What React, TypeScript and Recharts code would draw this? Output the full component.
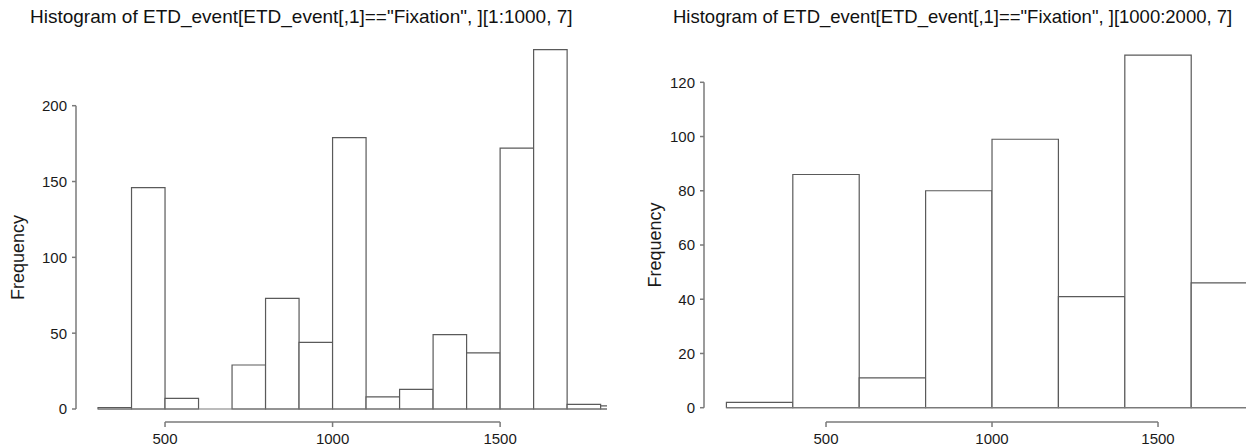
import { ComposedChart, ReferenceArea, ReferenceLine, XAxis, YAxis } from 'recharts'

// histogram breaks + counts
const leftBreaks = [300, 400, 500, 600, 700, 800, 900, 1000, 1100, 1200, 1300, 1400, 1500, 1600, 1700, 1800, 1900]
const leftCounts = [1, 146, 7, 0, 29, 73, 44, 179, 8, 13, 49, 37, 172, 237, 3, 2]
const rightBreaks = [200, 400, 600, 800, 1000, 1200, 1400, 1600, 1800]
const rightCounts = [2, 86, 11, 80, 99, 41, 130, 46]

const xTicks = [500, 1000, 1500]
const leftYTicks = [0, 50, 100, 150, 200]
const rightYTicks = [0, 20, 40, 60, 80, 100, 120]

const leftTitle = 'Histogram of ETD_event[ETD_event[,1]=="Fixation", ][1:1000, 7]'
const rightTitle = 'Histogram of ETD_event[ETD_event[,1]=="Fixation", ][1000:2000, 7]'

const FONT = '"Liberation Sans", Arial, Helvetica, sans-serif'
const AXIS_GREY = '#7a7a7a'
const BAR_STROKE = '#5a5a5a'

type HistogramProps = {
  breaks: number[]
  counts: number[]
  yTicks: number[]
  xDomain: [number, number]
  yDomain: [number, number]
  width: number
  marginLeft: number
  marginRight: number
  labelX: number
  labelY: number
}

function Histogram({
  breaks,
  counts,
  yTicks,
  xDomain,
  yDomain,
  width,
  marginLeft,
  marginRight,
  labelX,
  labelY,
}: HistogramProps) {
  const data = counts.map((count, i) => ({ mid: (breaks[i] + breaks[i + 1]) / 2, count }))

  return (
    <ComposedChart
      width={width}
      height={446}
      data={data}
      margin={{ top: 40, right: marginRight, bottom: 0, left: marginLeft }}
    >
      <XAxis
        type="number"
        dataKey="mid"
        domain={xDomain}
        allowDataOverflow
        ticks={xTicks}
        interval={0}
        height={24}
        tickSize={5}
        tickMargin={6}
        axisLine={false}
        tickLine={{ stroke: AXIS_GREY, strokeWidth: 1.5 }}
        tick={{ fontSize: 15, fill: '#1a1a1a', fontFamily: FONT }}
      />
      <YAxis
        type="number"
        domain={yDomain}
        allowDataOverflow
        ticks={yTicks}
        interval={0}
        width={60}
        tickSize={4}
        tickMargin={5}
        axisLine={false}
        tickLine={{ stroke: AXIS_GREY, strokeWidth: 1.5 }}
        tick={{ fontSize: 15, fill: '#1a1a1a', fontFamily: FONT }}
        label={{
          content: () => (
            <text
              x={labelX}
              y={labelY}
              transform={`rotate(-90, ${labelX}, ${labelY})`}
              textAnchor="middle"
              dominantBaseline="central"
              fontSize={18}
              fontFamily={FONT}
              fill="#1a1a1a"
            >
              Frequency
            </text>
          ),
        }}
      />
      {/* baseline under every bin (zero-height bins included) */}
      <ReferenceLine
        segment={[
          { x: breaks[0], y: 0 },
          { x: breaks[breaks.length - 1], y: 0 },
        ]}
        stroke={AXIS_GREY}
        strokeWidth={1.2}
        ifOverflow="hidden"
      />
      {counts.map((count, i) =>
        count > 0 ? (
          <ReferenceArea
            key={i}
            x1={breaks[i]}
            x2={breaks[i + 1]}
            y1={0}
            y2={count}
            ifOverflow="hidden"
            fill="#fff"
            fillOpacity={1}
            stroke={BAR_STROKE}
            strokeWidth={1.2}
          />
        ) : null,
      )}
      {/* R-style axes that only span the tick range */}
      <ReferenceLine
        segment={[
          { x: xDomain[0], y: yTicks[0] },
          { x: xDomain[0], y: yTicks[yTicks.length - 1] },
        ]}
        stroke={AXIS_GREY}
        strokeWidth={1.5}
        ifOverflow="visible"
      />
      <ReferenceLine
        segment={[
          { x: xTicks[0], y: yDomain[0] },
          { x: xTicks[xTicks.length - 1], y: yDomain[0] },
        ]}
        stroke={AXIS_GREY}
        strokeWidth={1.5}
        ifOverflow="visible"
      />
    </ComposedChart>
  )
}

const titleStyle = {
  position: 'absolute' as const,
  top: 7,
  lineHeight: '20px',
  color: '#111',
  whiteSpace: 'nowrap' as const,
  fontFamily: FONT,
}

function App() {
  return (
    <div
      style={{
        position: 'absolute',
        left: 0,
        top: 0,
        width: 1246,
        height: 446,
        background: '#fff',
        overflow: 'hidden',
        fontFamily: FONT,
      }}
    >
      <div style={{ ...titleStyle, left: 30, fontSize: 19 }}>{leftTitle}</div>
      <div style={{ ...titleStyle, left: 673, fontSize: 18.5 }}>{rightTitle}</div>

      <div style={{ position: 'absolute', left: 0, top: 0 }}>
        <Histogram
          breaks={leftBreaks}
          counts={leftCounts}
          yTicks={leftYTicks}
          xDomain={[234.3, 1819]}
          yDomain={[-8.57, 243.32]}
          width={620}
          marginLeft={16}
          marginRight={13}
          labelX={18}
          labelY={257.5}
        />
      </div>
      <div style={{ position: 'absolute', left: 620, top: 0 }}>
        <Histogram
          breaks={rightBreaks}
          counts={rightCounts}
          yTicks={rightYTicks}
          xDomain={[132.5, 1765]}
          yDomain={[-5.27, 135.6]}
          width={626}
          marginLeft={24}
          marginRight={0}
          labelX={35}
          labelY={245}
        />
      </div>
    </div>
  )
}

export default App
